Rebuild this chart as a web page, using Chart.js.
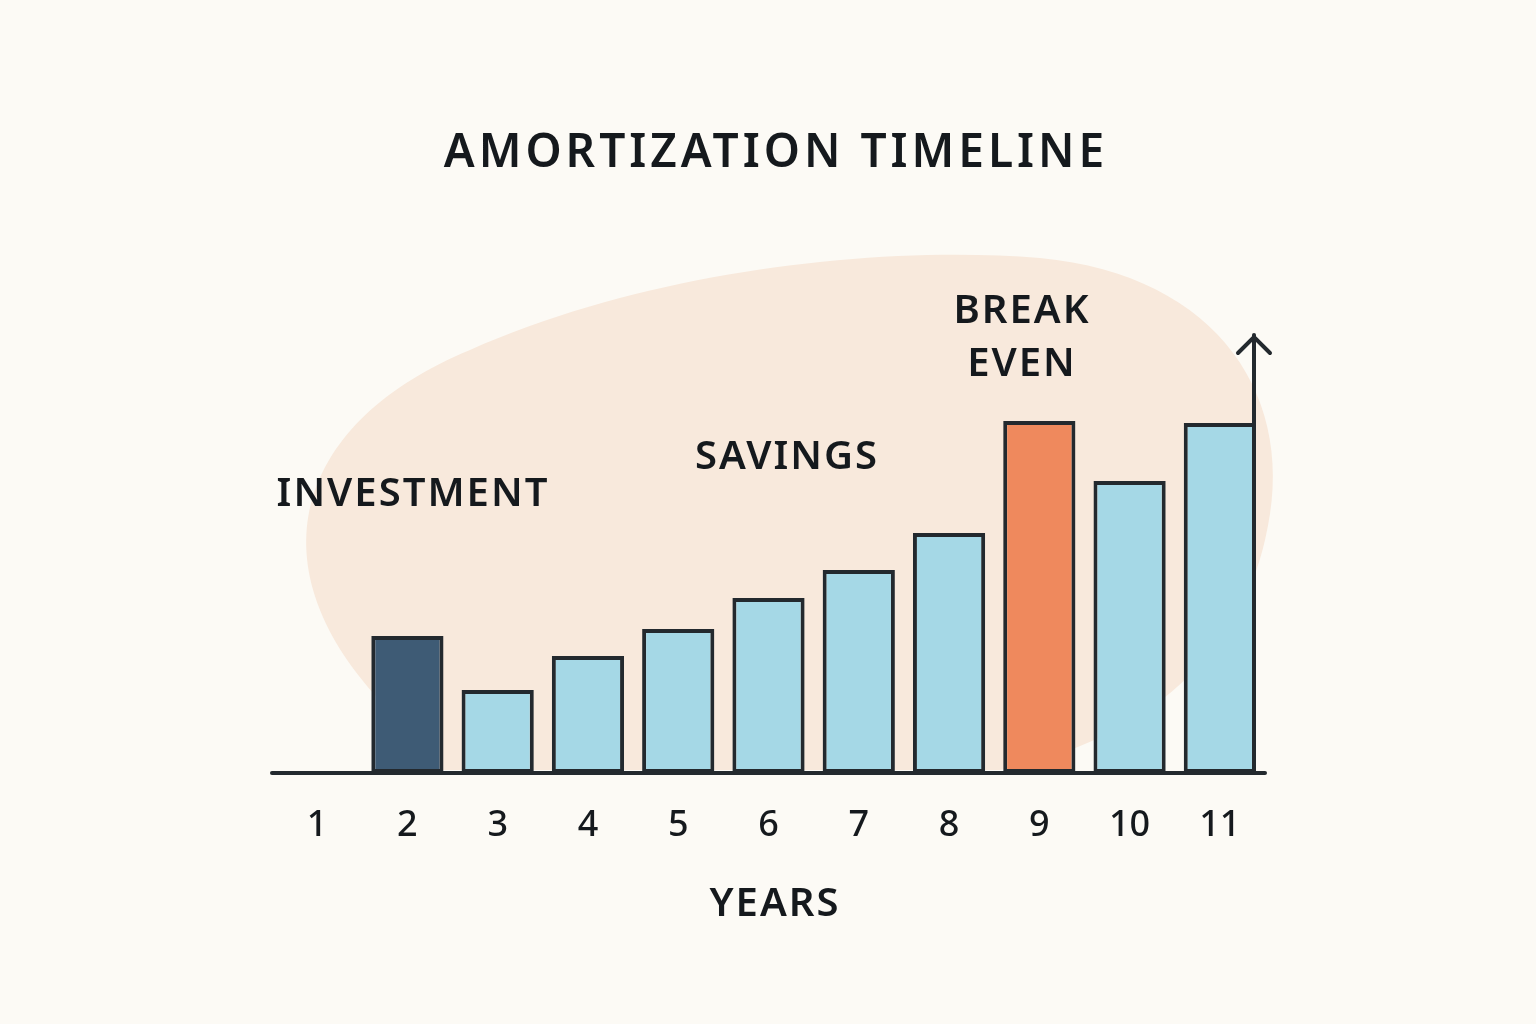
<!DOCTYPE html>
<html><head><meta charset="utf-8">
<script src="https://cdn.jsdelivr.net/npm/chart.js@4/dist/chart.umd.min.js"></script>
<style>html,body{margin:0;background:#fcfaf5}#w{width:1536px;height:1024px}</style>
</head><body><div id="w"><canvas id="c"></canvas></div>
<script>
const years = ["1","2","3","4","5","6","7","8","9","10","11"];
const values = [0,137,83,117,144,175,203,240,352,292,350];
const barColors = ["#a5d8e6","#3e5b75","#a5d8e6","#a5d8e6","#a5d8e6","#a5d8e6","#a5d8e6","#a5d8e6","#ef895d","#a5d8e6","#a5d8e6"];
const notes = [{t:"INVESTMENT",x:413,y:495},{t:"SAVINGS",x:787,y:458},{t:"BREAK",x:1022,y:312},{t:"EVEN",x:1022,y:365}];
const FONT = '"Noto Sans", sans-serif';

const deco = {
  id:'deco',
  beforeDraw(ch){
    const c=ch.ctx; c.save();
    c.fillStyle='#fcfaf5'; c.fillRect(0,0,ch.width,ch.height);
    c.fillStyle='#f8e9dc';
    c.beginPath();
    c.moveTo(380,700);
    c.bezierCurveTo(250,560,300,420,470,350);
    c.bezierCurveTo(650,270,880,245,1040,258);
    c.bezierCurveTo(1220,275,1300,400,1265,540);
    c.bezierCurveTo(1240,650,1150,740,1000,770);
    c.lineTo(420,770);
    c.closePath(); c.fill();
    c.restore();
  },
  afterDraw(ch){
    const c=ch.ctx, xs=ch.scales.x, ys=ch.scales.y; c.save();
    c.fillStyle='#15191d'; c.textAlign='center'; c.textBaseline='middle';
    c.font='600 46px '+FONT; c.letterSpacing='4px';
    c.fillText('AMORTIZATION TIMELINE',776,154);
    c.font='600 40px '+FONT; c.letterSpacing='2px';
    notes.forEach(n=>c.fillText(n.t,n.x,n.y));
    c.font='500 36px '+FONT; c.letterSpacing='0px';
    years.forEach((y,i)=>c.fillText(y,xs.getPixelForValue(i),826));
    c.font='600 40px '+FONT; c.letterSpacing='2px';
    c.fillText('YEARS',775,905);
    const b=ys.getPixelForValue(0);
    c.strokeStyle='#23292e'; c.lineWidth=4; c.lineCap='round';
    c.beginPath(); c.moveTo(272,b); c.lineTo(1265,b); c.stroke();
    const ax=1254, top=ys.getPixelForValue(438);
    c.beginPath(); c.moveTo(ax,b); c.lineTo(ax,top); c.stroke();
    c.lineJoin='miter';
    c.beginPath(); c.moveTo(ax-16,top+18); c.lineTo(ax,top+2); c.lineTo(ax+16,top+18); c.stroke();
    c.restore();
  }
};

new Chart(document.getElementById('c'),{
  type:'bar',
  data:{labels:years,datasets:[{data:values,backgroundColor:barColors,borderColor:'#23292e',borderWidth:4,borderSkipped:false,barPercentage:0.8,categoryPercentage:1}]},
  options:{responsive:true,maintainAspectRatio:false,animation:false,
    layout:{padding:{left:272,right:271,top:373,bottom:251}},
    plugins:{legend:{display:false},tooltip:{enabled:false}},
    scales:{x:{display:false},y:{display:false,min:0,max:400}}},
  plugins:[deco]
});
</script></body></html>
